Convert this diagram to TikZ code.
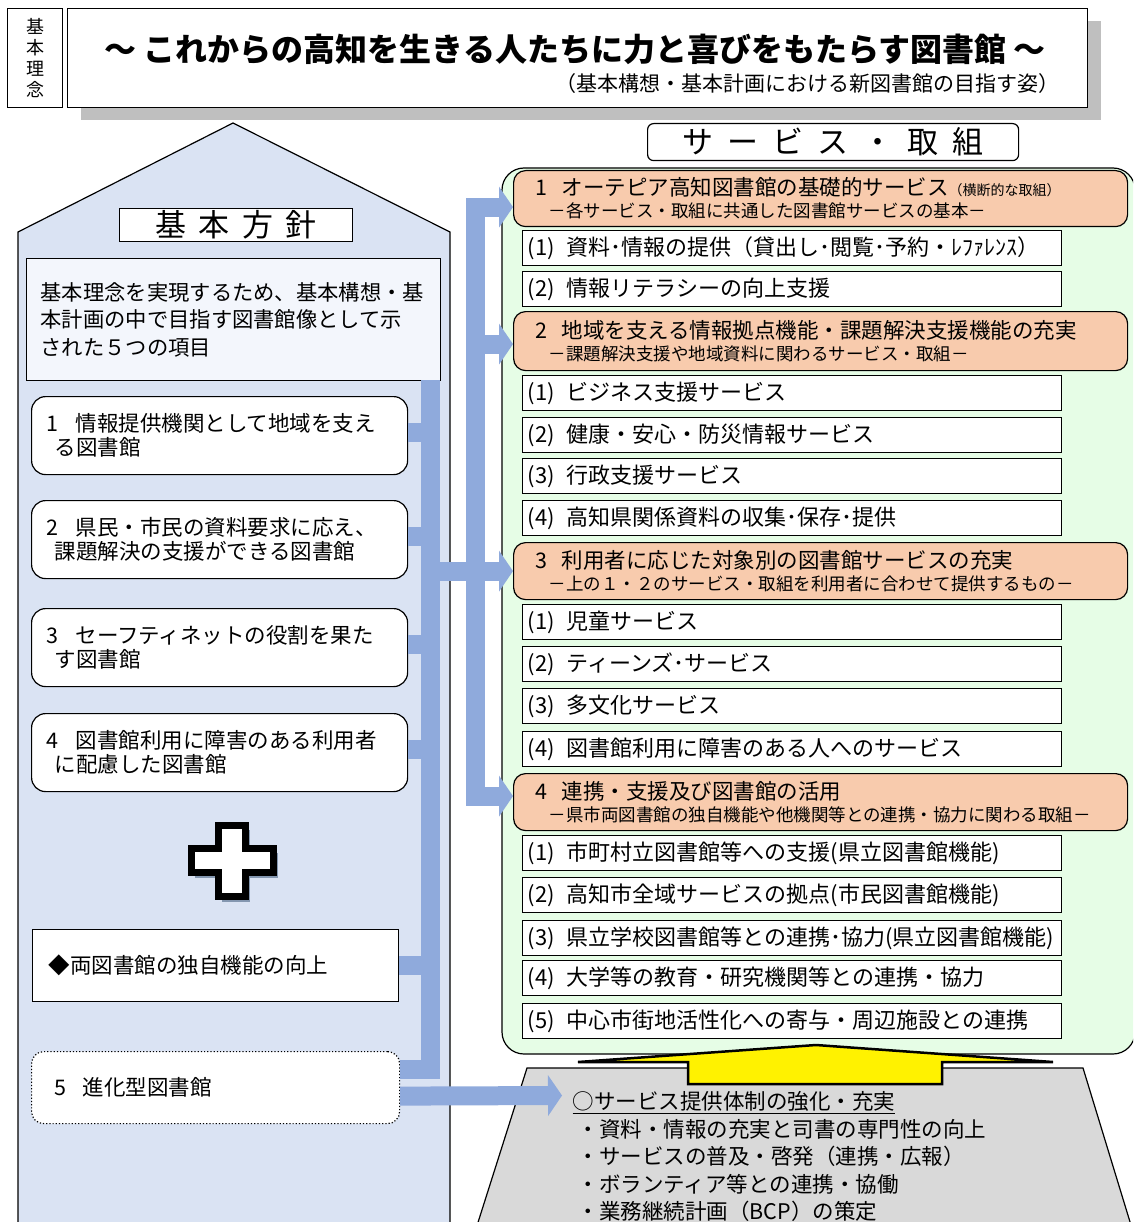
\documentclass[tikz,border=0pt]{standalone}
\usepackage{fontspec}
\setmainfont{Noto Sans CJK JP}
\usepackage{xcolor}
\usepackage{tikz}
\usetikzlibrary{positioning, arrows.meta}

\definecolor{housefill}{HTML}{DAE3F3}
\definecolor{aimfill}{HTML}{F3F6FC}
\definecolor{linkblue}{HTML}{8FAADC}
\definecolor{panelgreen}{HTML}{E6FDE6}
\definecolor{themefill}{HTML}{F8CBAD}
\definecolor{basegray}{HTML}{D9D9D9}
\definecolor{shadowgray}{HTML}{BFBFBF}
\definecolor{crossshadow}{HTML}{8497B0}

\begin{document}
\begin{tikzpicture} [x=1pt, y=-1pt,
                    inner sep=0pt,
                    line width=1.2pt,
                    font=\fontsize{22}{24}\selectfont,
                    >={Triangle[width=41pt, length=14pt, line width=0pt]},
                    policy/.style = {draw,
                                     fill=white,
                                     rounded corners=14pt,
                                     anchor=north west,
                                     minimum height=78pt,
                                     inner xsep=15pt,
                                     text width=346pt,
                                     align=left,
                                     font=\fontsize{21.5}{24}\selectfont},
                    theme/.style = {draw,
                                    fill=themefill,
                                    rounded corners=12pt,
                                    anchor=north west,
                                    minimum height=57pt,
                                    inner xsep=22pt,
                                    text width=570pt,
                                    align=left,
                                    font=\fontsize{21.5}{22}\selectfont},
                    service/.style = {draw,
                                      fill=white,
                                      anchor=north west,
                                      minimum height=35pt,
                                      inner xsep=5pt,
                                      text width=529pt,
                                      align=left},
                    heading/.style = {draw,
                                      fill=white,
                                      anchor=north west},
                    link/.style = {draw=linkblue, line width=19pt}]

  \useasboundingbox (0,0) rectangle (1133,1222);
  \clip (0,0) rectangle (1133,1222);

  % title
  \fill[shadowgray] (81,21) rectangle (1101,120);
  \node (frame) [heading, minimum width=1020pt, minimum height=99pt] at (67,8) {};
  \node (rinen) [heading, minimum width=55pt, minimum height=99pt, align=center,
                 font=\fontsize{18}{21}\selectfont] at (7,8) {基\\本\\理\\念};
  \node (motto) [font=\bfseries\fontsize{32}{33}\selectfont] at (575,49)
        {～ これからの高知を生きる人たちに力と喜びをもたらす図書館 ～};
  \node (motto note) [anchor=east, font=\fontsize{21}{22}\selectfont] at (1060,84)
        {（基本構想・基本計画における新図書館の目指す姿）};

  % left: house
  \draw[fill=housefill] (18,1240) -- (18,232) -- (233,123) -- (450,232) -- (450,1240);
  \node (hoshin) [heading, minimum width=233pt, minimum height=33pt,
                  font=\fontsize{31}{32}\selectfont\addfontfeature{LetterSpace=40}]
        at (119,208) {基本方針};
  \node (aim) [draw, fill=aimfill, anchor=north west, minimum height=122pt,
               inner xsep=14pt, text width=386pt, align=left,
               font=\fontsize{21.3}{27.5}\selectfont] at (26,258)
        {基本理念を実現するため、基本構想・基\\本計画の中で目指す図書館像として示\\された５つの項目};

  \node (p1) [policy] at (31,396) {1\hspace{17pt}情報提供機関として地域を支え\\\hspace*{8pt}る図書館};
  \node (p2) [policy] at (31,500) {2\hspace{17pt}県民・市民の資料要求に応え、\\\hspace*{8pt}課題解決の支援ができる図書館};
  \node (p3) [policy] at (31,608) {3\hspace{17pt}セーフティネットの役割を果た\\\hspace*{8pt}す図書館};
  \node (p4) [policy] at (31,713) {4\hspace{17pt}図書館利用に障害のある利用者\\\hspace*{8pt}に配慮した図書館};

  \draw[line width=7pt, fill=white,
        preaction={draw=crossshadow, fill=crossshadow,
                   transform canvas={xshift=4pt, yshift=-5pt}}]
    (218.5,825.5) -- (245.5,825.5) -- (245.5,848.5) -- (273.5,848.5)
    -- (273.5,872.5) -- (245.5,872.5) -- (245.5,896.5) -- (218.5,896.5)
    -- (218.5,872.5) -- (191.5,872.5) -- (191.5,848.5) -- (218.5,848.5) -- cycle;

  \node (extra) [policy, rounded corners=0pt, minimum height=72pt, inner xsep=16pt,
                 text width=334pt] at (32,929) {◆両図書館の独自機能の向上};
  \node (p5) [policy, dotted, rounded corners=12pt, minimum height=72pt, inner xsep=23pt,
              text width=322pt] at (31,1051) {5\hspace{16pt}進化型図書館};

  % right: services
  \node (torikumi) [heading, rounded corners=6pt, minimum width=371pt, minimum height=37pt,
                    font=\fontsize{31}{32}\selectfont\addfontfeature{LetterSpace=45}]
        at (647,123) {サービス・取組};
  \draw[fill=panelgreen, rounded corners=22pt] (502,168) rectangle (1135,1054);

  \node (o1) [theme, minimum height=56pt] at (513,170)
        {1\hspace{14pt}オーテピア高知図書館の基礎的サービス{\fontsize{14}{22}\selectfont（横断的な取組）}\\
         \hspace*{13pt}{\fontsize{17.5}{22}\selectfont －各サービス・取組に共通した図書館サービスの基本－}};
  \node (s11) [service] at (522,230) {(1)\hspace{12pt}資料･情報の提供（貸出し･閲覧･予約・ﾚﾌｧﾚﾝｽ）};
  \node (s12) [service] at (522,271) {(2)\hspace{12pt}情報リテラシーの向上支援};

  \node (o2) [theme, minimum height=59pt] at (513,311)
        {2\hspace{14pt}地域を支える情報拠点機能・課題解決支援機能の充実\\
         \hspace*{13pt}{\fontsize{17.5}{22}\selectfont －課題解決支援や地域資料に関わるサービス・取組－}};
  \node (s21) [service] at (522,375) {(1)\hspace{12pt}ビジネス支援サービス};
  \node (s22) [service] at (522,417) {(2)\hspace{12pt}健康・安心・防災情報サービス};
  \node (s23) [service] at (522,458) {(3)\hspace{12pt}行政支援サービス};
  \node (s24) [service] at (522,500) {(4)\hspace{12pt}高知県関係資料の収集･保存･提供};

  \node (o3) [theme] at (513,542)
        {3\hspace{14pt}利用者に応じた対象別の図書館サービスの充実\\
         \hspace*{13pt}{\fontsize{17.5}{22}\selectfont －上の１・２のサービス・取組を利用者に合わせて提供するもの－}};
  \node (s31) [service] at (522,604) {(1)\hspace{12pt}児童サービス};
  \node (s32) [service] at (522,646) {(2)\hspace{12pt}ティーンズ･サービス};
  \node (s33) [service] at (522,688) {(3)\hspace{12pt}多文化サービス};
  \node (s34) [service] at (522,731) {(4)\hspace{12pt}図書館利用に障害のある人へのサービス};

  \node (o4) [theme] at (513,773)
        {4\hspace{14pt}連携・支援及び図書館の活用\\
         \hspace*{13pt}{\fontsize{17.5}{22}\selectfont －県市両図書館の独自機能や他機関等との連携・協力に関わる取組－}};
  \node (s41) [service] at (522,835) {(1)\hspace{12pt}市町村立図書館等への支援(県立図書館機能)};
  \node (s42) [service] at (522,877) {(2)\hspace{12pt}高知市全域サービスの拠点(市民図書館機能)};
  \node (s43) [service] at (522,920) {(3)\hspace{12pt}県立学校図書館等との連携･協力(県立図書館機能)};
  \node (s44) [service] at (522,960) {(4)\hspace{12pt}大学等の教育・研究機関等との連携・協力};
  \node (s45) [service] at (522,1003) {(5)\hspace{12pt}中心市街地活性化への寄与・周辺施設との連携};

  % base
  \draw[fill=basegray] (527,1068) -- (1083,1068) -- (1134,1235) -- (474,1235) -- cycle;
  \draw[fill=yellow, line width=2.5pt] (688,1084) -- (688,1062) -- (578,1062) -- (816,1045)
    -- (1053,1062) -- (942,1062) -- (942,1084) -- cycle;
  \node (base) [anchor=north west, align=left, font=\fontsize{21.5}{27.5}\selectfont] at (572,1091)
        {\underline{○サービス提供体制の強化・充実}\\
         \hspace*{5pt}・資料・情報の充実と司書の専門性の向上\\
         \hspace*{5pt}・サービスの普及・啓発（連携・広報）\\
         \hspace*{5pt}・ボランティア等との連携・協働\\
         \hspace*{5pt}・業務継続計画（BCP）の策定};

  % connectors
  \coordinate (lbar) at (430,380);
  \coordinate (rbar) at (475.5,197);
  \coordinate (basetip) at (562,1095.5);

  \draw[link] ([yshift=18.5pt]p5.east) -- ([yshift=18.5pt]p5.east -| lbar) -- (lbar);
  \foreach \p in {p1,p2,p3,p4}
    \draw[link] ([yshift=3pt]\p.east) -- ([yshift=3pt]\p.east -| lbar);
  \draw[link] (extra.east) -- (extra.east -| lbar);

  \draw[link, <->] ([yshift=-8.5pt]o1.west) -- ([yshift=-8.5pt]o1.west -| rbar)
    -- ([yshift=6pt]o4.west -| rbar) -- ([yshift=6pt]o4.west);
  \draw[link, ->] ([yshift=-3pt]o2.west -| rbar) -- ([yshift=-3pt]o2.west);
  \draw[link, ->] (lbar |- o3.west) -- (o3.west);
  \draw[link, ->] ([yshift=-8.5pt]p5.east) -- (basetip);
\end{tikzpicture}
\end{document}
